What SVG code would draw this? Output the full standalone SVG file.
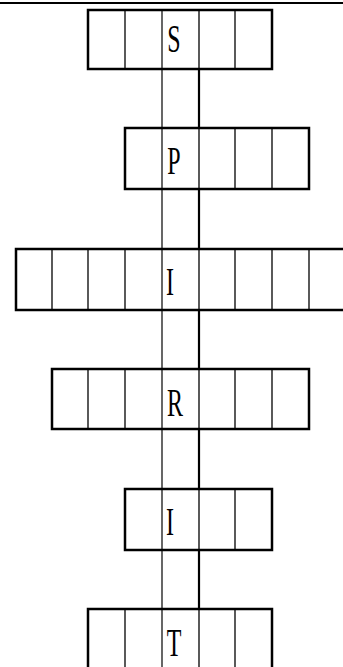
<svg xmlns="http://www.w3.org/2000/svg" width="343" height="667" viewBox="0 0 343 667">
<style>
.frame{fill:#fff;stroke:#000;stroke-width:2.5}
.div{stroke:#000;stroke-width:1.3}
.thin{stroke:#000;stroke-width:1.2}
.thick{stroke:#000;stroke-width:2.2}
.ltr{font-family:"Liberation Serif","DejaVu Serif",serif;font-size:40px;fill:#000;text-anchor:middle}
</style>
<rect width="343" height="667" fill="#fff"/>
<line x1="0" y1="3" x2="343" y2="3" stroke="#000" stroke-width="2.2"/>
<g id="connectors">
<line class="thin" x1="162" y1="69" x2="162" y2="128"/>
<line class="thick" x1="199" y1="69" x2="199" y2="128"/>
<line class="thin" x1="162" y1="189" x2="162" y2="249"/>
<line class="thick" x1="199" y1="189" x2="199" y2="249"/>
<line class="thin" x1="162" y1="310" x2="162" y2="369"/>
<line class="thick" x1="199" y1="310" x2="199" y2="369"/>
<line class="thin" x1="162" y1="429" x2="162" y2="489"/>
<line class="thick" x1="199" y1="429" x2="199" y2="489"/>
<line class="thin" x1="162" y1="550" x2="162" y2="609"/>
<line class="thick" x1="199" y1="550" x2="199" y2="609"/>
</g>
<g id="row-S">
<rect class="frame" x="88" y="10" width="184" height="59"/>
<line class="div" x1="125" y1="10" x2="125" y2="69"/>
<line class="thin" x1="162" y1="10" x2="162" y2="69"/>
<line class="div" x1="199" y1="10" x2="199" y2="69"/>
<line class="div" x1="235" y1="10" x2="235" y2="69"/>
<text class="ltr" transform="translate(174,52) scale(0.6,1)">S</text>
</g>
<g id="row-P">
<rect class="frame" x="125" y="128" width="184" height="61"/>
<line class="thin" x1="162" y1="128" x2="162" y2="189"/>
<line class="div" x1="199" y1="128" x2="199" y2="189"/>
<line class="div" x1="235" y1="128" x2="235" y2="189"/>
<line class="div" x1="272" y1="128" x2="272" y2="189"/>
<text class="ltr" transform="translate(174,174) scale(0.6,1)">P</text>
</g>
<g id="row-I1">
<rect class="frame" x="16" y="249" width="340" height="61"/>
<line class="div" x1="52" y1="249" x2="52" y2="310"/>
<line class="div" x1="88" y1="249" x2="88" y2="310"/>
<line class="div" x1="125" y1="249" x2="125" y2="310"/>
<line class="thin" x1="162" y1="249" x2="162" y2="310"/>
<line class="div" x1="199" y1="249" x2="199" y2="310"/>
<line class="div" x1="235" y1="249" x2="235" y2="310"/>
<line class="div" x1="272" y1="249" x2="272" y2="310"/>
<line class="div" x1="309" y1="249" x2="309" y2="310"/>
<text class="ltr" transform="translate(170,295) scale(0.6,1)">I</text>
</g>
<g id="row-R">
<rect class="frame" x="52" y="369" width="257" height="60"/>
<line class="div" x1="88" y1="369" x2="88" y2="429"/>
<line class="div" x1="125" y1="369" x2="125" y2="429"/>
<line class="thin" x1="162" y1="369" x2="162" y2="429"/>
<line class="div" x1="199" y1="369" x2="199" y2="429"/>
<line class="div" x1="235" y1="369" x2="235" y2="429"/>
<line class="div" x1="272" y1="369" x2="272" y2="429"/>
<text class="ltr" transform="translate(175,416) scale(0.6,1)">R</text>
</g>
<g id="row-I2">
<rect class="frame" x="125" y="489" width="147" height="61"/>
<line class="thin" x1="162" y1="489" x2="162" y2="550"/>
<line class="div" x1="199" y1="489" x2="199" y2="550"/>
<line class="div" x1="235" y1="489" x2="235" y2="550"/>
<text class="ltr" transform="translate(170,535) scale(0.6,1)">I</text>
</g>
<g id="row-T">
<rect class="frame" x="88" y="609" width="184" height="70"/>
<line class="div" x1="125" y1="609" x2="125" y2="679"/>
<line class="thin" x1="162" y1="609" x2="162" y2="679"/>
<line class="div" x1="199" y1="609" x2="199" y2="679"/>
<line class="div" x1="235" y1="609" x2="235" y2="679"/>
<text class="ltr" transform="translate(174,656) scale(0.6,1)">T</text>
</g>
</svg>
